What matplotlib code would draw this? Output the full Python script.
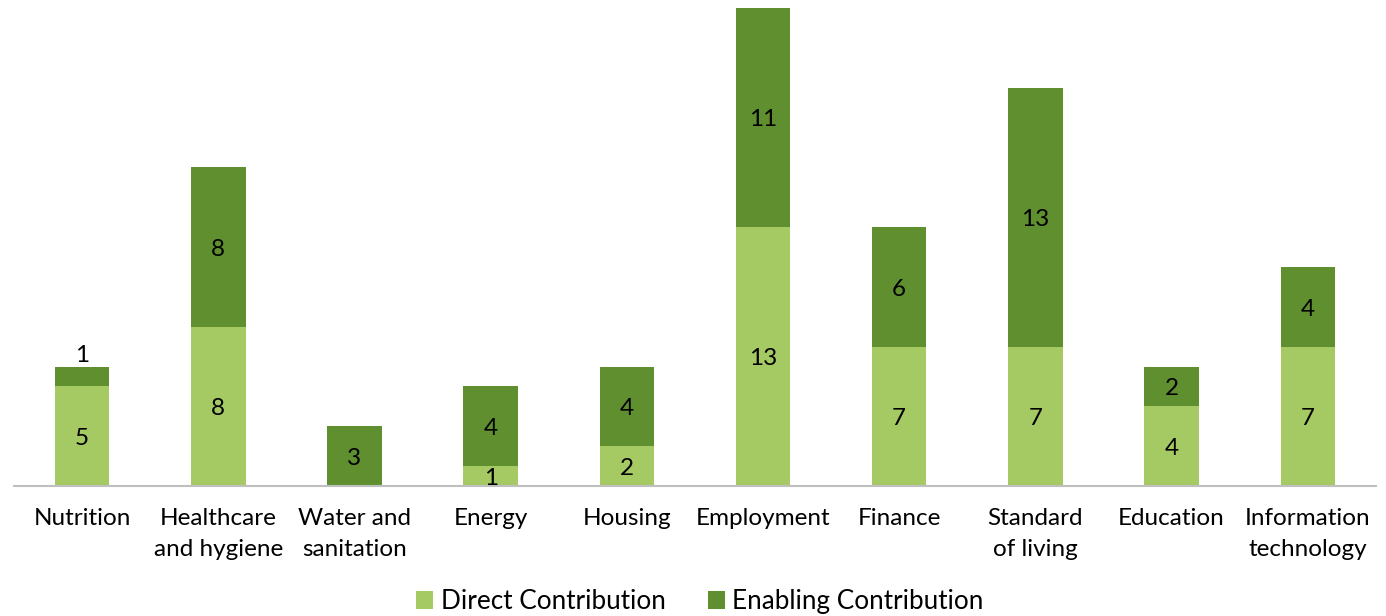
import numpy as np
import matplotlib
matplotlib.use("Agg")
import matplotlib.pyplot as plt

plt.rcParams['font.family'] = ['Lato', 'DejaVu Sans']

categories = ['Nutrition', 'Healthcare\nand hygiene', 'Water and\nsanitation', 'Energy',
              'Housing', 'Employment', 'Finance', 'Standard\nof living', 'Education',
              'Information\ntechnology']
direct = [5, 8, 0, 1, 2, 13, 7, 7, 4, 7]
enabling = [1, 8, 3, 4, 4, 11, 6, 13, 2, 4]

light = '#A5C963'
dark = '#5F8F2F'

fig = plt.figure(figsize=(13.86, 6.16), dpi=100)
ax = fig.add_axes([0.0101, 0.211, 0.9826, 0.776])

x = np.arange(len(categories))
ax.bar(x, direct, width=0.4, color=light, label='Direct Contribution')
ax.bar(x, enabling, width=0.4, bottom=direct, color=dark, label='Enabling Contribution')

fs = 17.5
for i, v in enumerate(direct):
    if v > 0:
        ax.text(x[i], v / 2 - 0.12, str(v), ha='center', va='center', fontsize=fs, color='black')
for i, v in enumerate(enabling):
    if v == 1 and direct[i] > 1:
        # small segment: label sits above the bar
        ax.text(x[i], direct[i] + v + 0.05, str(v), ha='center', va='bottom', fontsize=fs)
    else:
        ax.text(x[i], direct[i] + v / 2 - 0.12, str(v), ha='center', va='center', fontsize=fs)

ax.set_xlim(-0.5, len(categories) - 0.5)
ax.set_ylim(0, 24)
ax.set_yticks([])
ax.set_xticks(x)
ax.set_xticklabels(categories, fontsize=fs, linespacing=1.55)
ax.tick_params(axis='x', length=0, pad=16)
for s in ['top', 'right', 'left']:
    ax.spines[s].set_visible(False)
ax.spines['bottom'].set_color('#BFBFBF')
ax.spines['bottom'].set_linewidth(1.5)

fig.legend(loc='lower center', bbox_to_anchor=(0.505, -0.035), ncol=2, frameon=False,
           fontsize=18.8, handlelength=0.65, handleheight=0.65, handletextpad=0.3,
           columnspacing=1.6)

fig.savefig('out.png', dpi=100)
